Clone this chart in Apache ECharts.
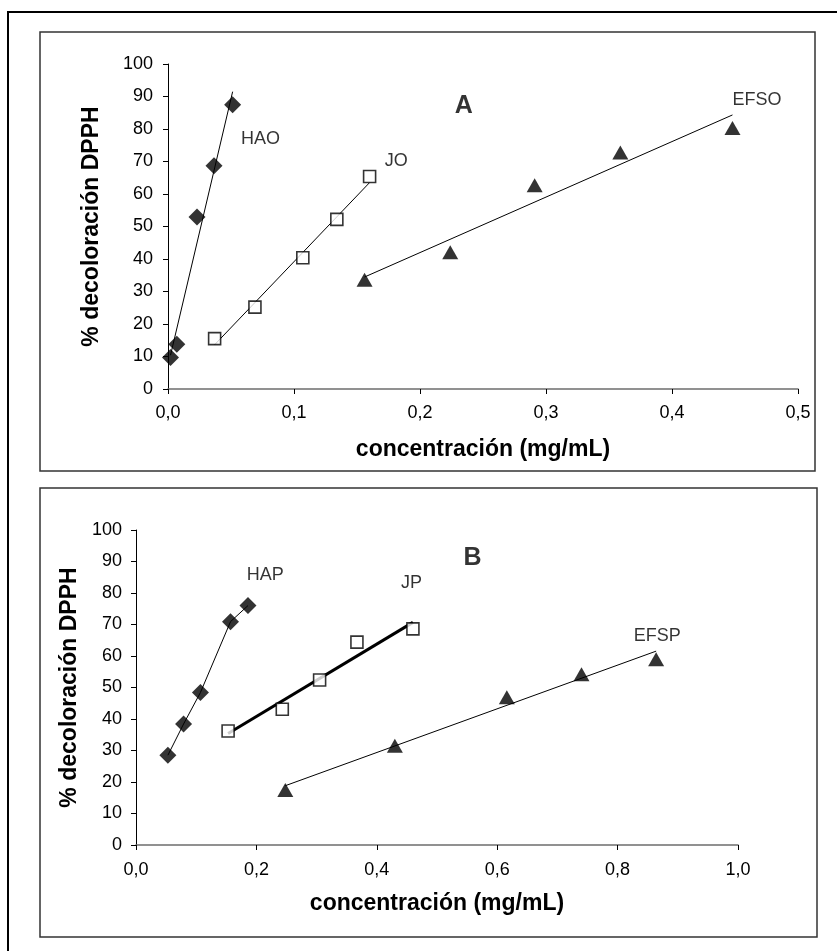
<!DOCTYPE html>
<html>
<head>
<meta charset="utf-8">
<script src="https://cdn.jsdelivr.net/npm/echarts@6/dist/echarts.min.js"></script>
<style>
html,body{margin:0;padding:0;background:#fff;}
#chart{width:837px;height:951px;}
</style>
</head>
<body>
<div id="chart"></div>
<script>
// ---------- DATA ----------
// Panel A
const haoX = [0.002, 0.007, 0.023, 0.0365, 0.0513];
const haoY = [9.7, 13.8, 52.9, 68.7, 87.5];
const joX = [0.037, 0.069, 0.107, 0.134, 0.160];
const joY = [15.5, 25.2, 40.4, 52.2, 65.4];
const efsoX = [0.156, 0.224, 0.291, 0.359, 0.448];
const efsoY = [33.6, 42.1, 62.7, 72.8, 80.3];
// Panel B
const hapX = [0.053, 0.079, 0.107, 0.157, 0.186];
const hapY = [28.5, 38.4, 48.4, 70.9, 76.0];
const jpX = [0.153, 0.243, 0.305, 0.367, 0.460];
const jpY = [36.2, 43.1, 52.4, 64.4, 68.6];
const efspX = [0.248, 0.430, 0.616, 0.740, 0.864];
const efspY = [17.5, 31.5, 46.9, 54.2, 59.0];

// Tick labels
const yTickLabels = ['0','10','20','30','40','50','60','70','80','90','100'];
const xTickLabelsA = ['0,0','0,1','0,2','0,3','0,4','0,5'];
const xTickLabelsB = ['0,0','0,2','0,4','0,6','0,8','1,0'];

// Texts
const yTitle = '% decoloración DPPH';
const xTitle = 'concentración (mg/mL)';
const seriesLabelsA = ['HAO', 'JO', 'EFSO'];
const seriesLabelsB = ['HAP', 'JP', 'EFSP'];
const panelLetters = ['A', 'B'];
// label anchor points (data coordinates)
const labelPosA = [[0.058, 77], [0.172, 70], [0.448, 89]];
const labelPosB = [[0.184, 85.7], [0.44, 83.1], [0.827, 66.3]];
const letterPosA = [0.2347, 87.1];
const letterPosB = [0.559, 91];

// ---------- HELPERS ----------
const FONT = '"Liberation Sans", Arial, sans-serif';
function zip(xs, ys){ return xs.map((x,i)=>[x, ys[i]]); }
function trend(xs, ys){
  const n = xs.length;
  const mx = xs.reduce((a,b)=>a+b,0)/n, my = ys.reduce((a,b)=>a+b,0)/n;
  let sxy=0, sxx=0;
  for(let i=0;i<n;i++){ sxy += (xs[i]-mx)*(ys[i]-my); sxx += (xs[i]-mx)*(xs[i]-mx); }
  const b = sxy/sxx, a = my - b*mx;
  const x0 = Math.min(...xs), x1 = Math.max(...xs);
  return [[x0, a+b*x0], [x1, a+b*x1]];
}
function labelSeries(names, pos, axisIdx, opts){
  return {
    type:'scatter', xAxisIndex:axisIdx, yAxisIndex:axisIdx, symbolSize:0, silent:true, z:5,
    data: names.map((n,i)=>({name:n, value:pos[i]})),
    label:{show:true, position:[0,0], formatter:p=>p.name, color:'#000',
      fontFamily:FONT, fontSize:opts.size, fontWeight:opts.weight,
      align:opts.align, verticalAlign:'middle'}
  };
}
const markerStyle = {
  diamond:{symbol:'diamond', symbolSize:[17,17], itemStyle:{color:'#000'}},
  square:{symbol:'rect', symbolSize:[12,12], itemStyle:{color:'#fff', borderColor:'#000', borderWidth:1.6}},
  triangle:{symbol:'triangle', symbolSize:[16,14], itemStyle:{color:'#000'}}
};
function scatter(xs, ys, axisIdx, kind){
  return Object.assign({type:'scatter', xAxisIndex:axisIdx, yAxisIndex:axisIdx, z:4,
    data: zip(xs, ys)}, markerStyle[kind]);
}
function trendLine(xs, ys, axisIdx, width){
  return {type:'line', xAxisIndex:axisIdx, yAxisIndex:axisIdx, symbol:'none', z:3,
    data: trend(xs, ys), lineStyle:{color:'#000', width:width}};
}
function xAxis(gridIdx, max, interval, labels, nameGap, margin){
  return {type:'value', gridIndex:gridIdx, min:0, max:max, interval:interval,
    name:xTitle, nameLocation:'middle', nameGap:nameGap,
    nameTextStyle:{fontFamily:FONT, fontSize:23, fontWeight:'bold', color:'#000'},
    axisLine:{show:true, onZero:false, lineStyle:{color:'#6e6e6e', width:1.6}},
    axisTick:{show:true, length:5, inside:false, lineStyle:{color:'#000', width:1}},
    axisLabel:{margin:margin, fontFamily:FONT, fontSize:18, color:'#000',
      formatter:(v)=>labels[Math.round(v/interval)]},
    splitLine:{show:false}};
}
function yAxis(gridIdx, margin, nameGap){
  return {type:'value', gridIndex:gridIdx, min:0, max:100, interval:10,
    name:yTitle, nameLocation:'middle', nameGap:nameGap,
    nameTextStyle:{fontFamily:FONT, fontSize:23, fontWeight:'bold', color:'#000'},
    axisLine:{show:true, onZero:false, lineStyle:{color:'#000', width:1}},
    axisTick:{show:true, length:5, inside:false, lineStyle:{color:'#000', width:1}},
    axisLabel:{margin:margin, fontFamily:FONT, fontSize:18, color:'#000',
      formatter:(v)=>yTickLabels[Math.round(v/10)]},
    splitLine:{show:false}};
}

const chart = echarts.init(document.getElementById('chart'), null, {renderer:'canvas'});
chart.setOption({
  backgroundColor:'#fff',
  animation:false,
  graphic:[
    {type:'rect', shape:{x:8, y:12, width:900, height:1000}, style:{fill:'none', stroke:'#000', lineWidth:2}, silent:true},
    {type:'rect', shape:{x:40, y:32, width:775, height:439}, style:{fill:'none', stroke:'#333', lineWidth:1.5}, silent:true},
    {type:'rect', shape:{x:40, y:488, width:777, height:449}, style:{fill:'none', stroke:'#333', lineWidth:1.5}, silent:true}
  ],
  grid:[
    {left:168, top:64, width:630, height:325},
    {left:136, top:530, width:602, height:315}
  ],
  xAxis:[ xAxis(0, 0.5, 0.1, xTickLabelsA, 49, 15), xAxis(1, 1.0, 0.2, xTickLabelsB, 47, 16) ],
  yAxis:[ yAxis(0, 15, 65), yAxis(1, 14, 35) ],
  series:[
    // Panel A
    trendLine(haoX, haoY, 0, 1),
    trendLine(joX, joY, 0, 1),
    trendLine(efsoX, efsoY, 0, 1),
    scatter(haoX, haoY, 0, 'diamond'),
    scatter(joX, joY, 0, 'square'),
    scatter(efsoX, efsoY, 0, 'triangle'),
    labelSeries(seriesLabelsA, labelPosA, 0, {size:18, weight:'normal', align:'left'}),
    labelSeries([panelLetters[0]], [letterPosA], 0, {size:25, weight:'bold', align:'center'}),
    // Panel B
    {type:'line', xAxisIndex:1, yAxisIndex:1, symbol:'none', z:3, data:zip(hapX, hapY), lineStyle:{color:'#000', width:1}},
    trendLine(jpX, jpY, 1, 3),
    trendLine(efspX, efspY, 1, 1),
    scatter(hapX, hapY, 1, 'diamond'),
    scatter(jpX, jpY, 1, 'square'),
    scatter(efspX, efspY, 1, 'triangle'),
    labelSeries(seriesLabelsB, labelPosB, 1, {size:18, weight:'normal', align:'left'}),
    labelSeries([panelLetters[1]], [letterPosB], 1, {size:25, weight:'bold', align:'center'})
  ]
});
</script>
</body>
</html>
